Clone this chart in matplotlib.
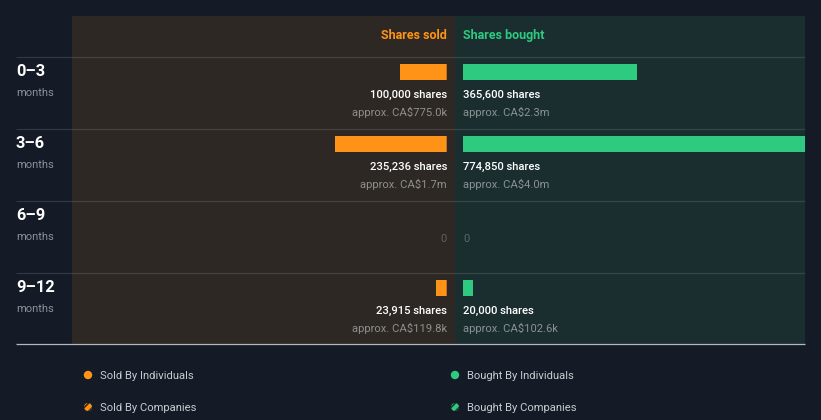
import matplotlib
matplotlib.use("Agg")
import matplotlib.pyplot as plt
import matplotlib.patches as mpatches

plt.rcParams['font.family'] = ['Roboto', 'DejaVu Sans']
plt.rcParams['hatch.linewidth'] = 1.3

# ---- data ----
periods = ["0\u20133", "3\u20136", "6\u20139", "9\u201312"]
sold_shares = [100000, 235236, 0, 23915]
sold_value = ["approx. CA$775.0k", "approx. CA$1.7m", "", "approx. CA$119.8k"]
bought_shares = [365600, 774850, 0, 20000]
bought_value = ["approx. CA$2.3m", "approx. CA$4.0m", "", "approx. CA$102.6k"]
legend_labels = ["Sold By Individuals", "Sold By Companies",
                 "Bought By Individuals", "Bought By Companies"]

# ---- style ----
BG = "#151b26"
LEFT_BG = "#2d2823"
RIGHT_BG = "#1a2d2f"
ORANGE = "#ff9317"
GREEN = "#2dca80"
W, H = 821, 420

fig = plt.figure(figsize=(W / 100, H / 100), dpi=100, facecolor=BG)

def fx(px):
    return px / W

def fy(py):
    return 1 - py / H

TOP, BOTTOM = 16, 344
K = 0.475 / 1000  # px per share

ax_s = fig.add_axes([fx(72), fy(BOTTOM), (455 - 72) / W, (BOTTOM - TOP) / H])
ax_b = fig.add_axes([fx(455), fy(BOTTOM), (805 - 455) / W, (BOTTOM - TOP) / H])
ax_s.set_facecolor(LEFT_BG)
ax_b.set_facecolor(RIGHT_BG)
ax_s.set_xlim(375 / K, -8 / K)
ax_b.set_xlim(-8 / K, 342 / K)
for ax in (ax_s, ax_b):
    ax.set_ylim(BOTTOM, TOP)
    for sp in ax.spines.values():
        sp.set_visible(False)
    ax.set_xticks([]); ax.set_yticks([])

row_tops = [56 + 72 * i for i in range(len(periods))]

for i, top in enumerate(row_tops):
    yc = top + 16
    if sold_shares[i] > 0:
        ax_s.barh(yc, sold_shares[i], height=16, color=ORANGE, left=0)
        ax_s.barh(yc, 1.5 / K, height=16, color="#c9700f", left=0)
        ax_s.text(0, top + 39, f"{sold_shares[i]:,} shares", ha="right", va="center",
                  color="#ffffff", fontsize=8.1, fontweight="medium")
        ax_s.text(0, top + 56.5, sold_value[i], ha="right", va="center",
                  color="#8f8f8f", fontsize=8.1)
    else:
        ax_s.text(0, top + 38.5, "0", ha="right", va="center", color="#5f5f5f", fontsize=8.1)
    if bought_shares[i] > 0:
        ax_b.barh(yc, bought_shares[i], height=16, color=GREEN, left=0)
        ax_b.text(0, top + 39, f"{bought_shares[i]:,} shares", ha="left", va="center",
                  color="#ffffff", fontsize=8.1, fontweight="medium")
        ax_b.text(0, top + 56.5, bought_value[i], ha="left", va="center",
                  color="#8a9392", fontsize=8.1)
    else:
        ax_b.text(0, top + 38.5, "0", ha="left", va="center", color="#5a6766", fontsize=8.1)

ax_s.text(0, 35.5, "Shares sold", ha="right", va="center", color=ORANGE,
          fontsize=9, fontweight="bold")
ax_b.text(0, 35.5, "Shares bought", ha="left", va="center", color=GREEN,
          fontsize=9, fontweight="bold")

# overlay in pixel coordinates
ov = fig.add_axes([0, 0, 1, 1])
ov.set_xlim(0, W)
ov.set_ylim(H, 0)
ov.set_axis_off()
ov.patch.set_alpha(0)

for top in row_tops:
    ov.plot([16, 805], [top + 0.5, top + 0.5], color="white", alpha=0.12, lw=0.9,
            solid_capstyle="butt")
ov.plot([16, 805], [343.5, 343.5], color="#b4b8bd", lw=0.9, solid_capstyle="butt")

for i, (p, top) in enumerate(zip(periods, row_tops)):
    ov.text(16, top + 15, p, ha="left", va="center", color="white",
            fontsize=11.8, fontweight="bold")
    ov.text(16, top + 37, "months", ha="left", va="center", color="#8b9099",
            fontsize=8)

# legend
leg_pos = [(88, 375), (88, 407), (455, 375), (455, 407)]
leg_cols = [ORANGE, ORANGE, GREEN, GREEN]
for (x, y), lab, c, hatched in zip(leg_pos, legend_labels, leg_cols, [False, True, False, True]):
    if hatched:
        circ = mpatches.Circle((x, y), 4, facecolor=c,
                               edgecolor="#3a2a15" if c == ORANGE else "#173a2c",
                               hatch="////", lw=0)
    else:
        circ = mpatches.Circle((x, y), 4.2, facecolor=c, edgecolor="none")
    ov.add_patch(circ)
    ov.text(x + 12, y + 1, lab, ha="left", va="center", color="#c8cbd0", fontsize=8.1)

fig.savefig("out.png", dpi=100, facecolor=BG)
